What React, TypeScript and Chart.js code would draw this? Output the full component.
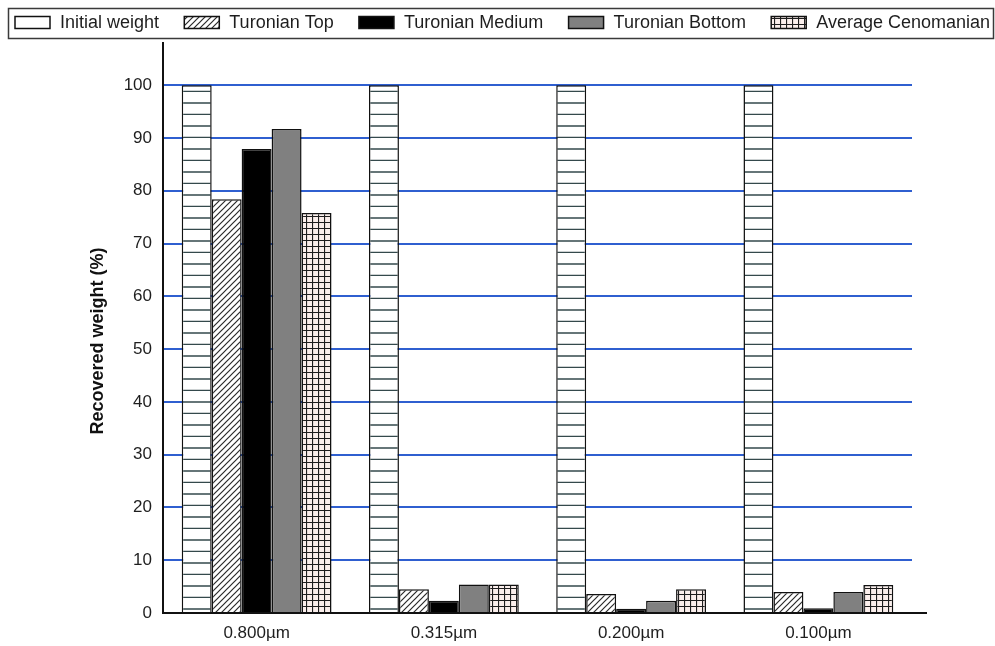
import React, { useEffect, useRef } from 'react';
import { Chart, registerables } from 'chart.js';

Chart.register(...registerables);

const categories = ['0.800µm', '0.315µm', '0.200µm', '0.100µm'];
const seriesNames = ['Initial weight', 'Turonian Top', 'Turonian Medium', 'Turonian Bottom', 'Average Cenomanian'];
const initialWeight = [100, 100, 100, 100];
const turonianTop = [78.4, 4.5, 3.6, 4.0];
const turonianMedium = [87.9, 2.3, 0.8, 0.9];
const turonianBottom = [91.7, 5.4, 2.3, 4.0];
const averageCenomanian = [75.8, 5.4, 4.5, 5.3];
const yTickValues = [0, 10, 20, 30, 40, 50, 60, 70, 80, 90, 100];
const yAxisTitle = 'Recovered weight (%)';

const FONT = '"Liberation Sans", Arial, Helvetica, sans-serif';
const INK = '#1e1e1e';

function makeTile(w: number, h: number, draw: (c: CanvasRenderingContext2D) => void): CanvasPattern | string {
  const cv = document.createElement('canvas');
  cv.width = w;
  cv.height = h;
  const c = cv.getContext('2d');
  if (!c) return '#fff';
  c.fillStyle = '#ffffff';
  c.fillRect(0, 0, w, h);
  draw(c);
  const ctx = document.createElement('canvas').getContext('2d');
  const p = ctx ? ctx.createPattern(cv, 'repeat') : null;
  return p || '#fff';
}

function horizontalLines() {
  return makeTile(8, 23, (c) => {
    c.strokeStyle = '#34494c';
    c.lineWidth = 1.4;
    c.beginPath();
    c.moveTo(0, 11);
    c.lineTo(8, 11);
    c.moveTo(0, 22.5);
    c.lineTo(8, 22.5);
    c.stroke();
  });
}

function diagonalLines() {
  return makeTile(6, 6, (c) => {
    c.strokeStyle = '#2a2a2a';
    c.lineWidth = 1.2;
    c.beginPath();
    c.moveTo(-1, 7);
    c.lineTo(7, -1);
    c.moveTo(-1, 1);
    c.lineTo(1, -1);
    c.moveTo(5, 7);
    c.lineTo(7, 5);
    c.stroke();
  });
}

function gridLines() {
  return makeTile(6, 6, (c) => {
    c.fillStyle = '#fbefec';
    c.fillRect(0, 0, 6, 6);
    c.strokeStyle = '#1e1e1e';
    c.lineWidth = 1.2;
    c.beginPath();
    c.moveTo(0.5, 0);
    c.lineTo(0.5, 6);
    c.moveTo(0, 0.5);
    c.lineTo(6, 0.5);
    c.stroke();
  });
}

const legendPlugin = {
  id: 'customLegend',
  afterDraw(chart: any) {
    const ctx: CanvasRenderingContext2D = chart.ctx;
    ctx.save();
    ctx.strokeStyle = '#3a3a3a';
    ctx.lineWidth = 1.5;
    ctx.strokeRect(8.5, 8.5, 985, 30);
    ctx.font = `18px ${FONT}`;
    const ds = chart.data.datasets;
    const boxW = 35;
    const boxH = 12;
    const gapText = 10;
    const startX = 15;
    const endX = 990;
    const widths = ds.map((d: any) => boxW + gapText + ctx.measureText(d.label).width);
    const total = widths.reduce((a: number, b: number) => a + b, 0);
    const gap = (endX - startX - total) / (ds.length - 1);
    let x = startX;
    const cy = 23;
    ds.forEach((d: any, i: number) => {
      ctx.fillStyle = d.legendFill || d.backgroundColor;
      ctx.fillRect(x, cy - boxH / 2 - 0.5, boxW, boxH);
      ctx.strokeStyle = '#111';
      ctx.lineWidth = 1.5;
      ctx.strokeRect(x, cy - boxH / 2 - 0.5, boxW, boxH);
      ctx.fillStyle = INK;
      ctx.textBaseline = 'middle';
      ctx.textAlign = 'left';
      ctx.fillText(d.label, x + boxW + gapText, cy);
      x += widths[i] + gap;
    });
    ctx.translate(98, 341);
    ctx.rotate(-Math.PI / 2);
    ctx.font = `bold 18px ${FONT}`;
    ctx.textAlign = 'center';
    ctx.textBaseline = 'middle';
    ctx.fillStyle = '#111';
    ctx.fillText(yAxisTitle, 0, 0);
    ctx.restore();
    const area = chart.chartArea;
    ctx.save();
    ctx.strokeStyle = '#111';
    ctx.lineWidth = 2;
    ctx.beginPath();
    ctx.moveTo(area.left, area.bottom);
    ctx.lineTo(927, area.bottom);
    ctx.stroke();
    ctx.restore();
  },
};

export default function App() {
  const ref = useRef<HTMLCanvasElement | null>(null);
  useEffect(() => {
    if (!ref.current) return;
    Chart.defaults.font.family = FONT;
    const common = { borderColor: '#111', borderWidth: 1.5, borderSkipped: 'start' as const };
    const chart = new Chart(ref.current, {
      type: 'bar',
      data: {
        labels: categories,
        datasets: [
          { label: seriesNames[0], data: initialWeight, backgroundColor: horizontalLines() as any, legendFill: '#ffffff', ...common } as any,
          { label: seriesNames[1], data: turonianTop, backgroundColor: diagonalLines() as any, ...common },
          { label: seriesNames[2], data: turonianMedium, backgroundColor: '#000000', ...common },
          { label: seriesNames[3], data: turonianBottom, backgroundColor: '#808080', ...common },
          { label: seriesNames[4], data: averageCenomanian, backgroundColor: gridLines() as any, ...common },
        ],
      },
      options: {
        animation: false,
        responsive: true,
        maintainAspectRatio: false,
        layout: { padding: { top: 43, right: 83, bottom: 0, left: 0 } },
        plugins: {
          legend: { display: false },
          tooltip: { enabled: false },
        },
        datasets: { bar: { categoryPercentage: 0.8, barPercentage: 1.0 } },
        scales: {
          x: {
            type: 'category',
            grid: { display: false, drawTicks: false },
            border: { display: true, color: '#111', width: 2 },
            ticks: { color: INK, font: { size: 17, family: FONT }, padding: 10, maxRotation: 0 },
            afterFit: (scale: any) => {
              scale.height = 33;
            },
          },
          y: {
            type: 'linear',
            min: 0,
            max: 108,
            afterBuildTicks: (scale: any) => {
              scale.ticks = yTickValues.map((v) => ({ value: v }));
            },
            afterFit: (scale: any) => {
              scale.width = 163;
            },
            grid: { color: '#2f5fd0', lineWidth: 2, drawTicks: false },
            border: { display: true, color: '#111', width: 2 },
            ticks: { color: INK, font: { size: 17, family: FONT }, padding: 11 },
          },
        },
      },
      plugins: [legendPlugin],
    });
    return () => chart.destroy();
  }, []);
  return (
    <div style={{ position: 'fixed', left: 0, top: 0, width: 995, height: 646, background: '#fff' }}>
      <canvas ref={ref} />
    </div>
  );
}
